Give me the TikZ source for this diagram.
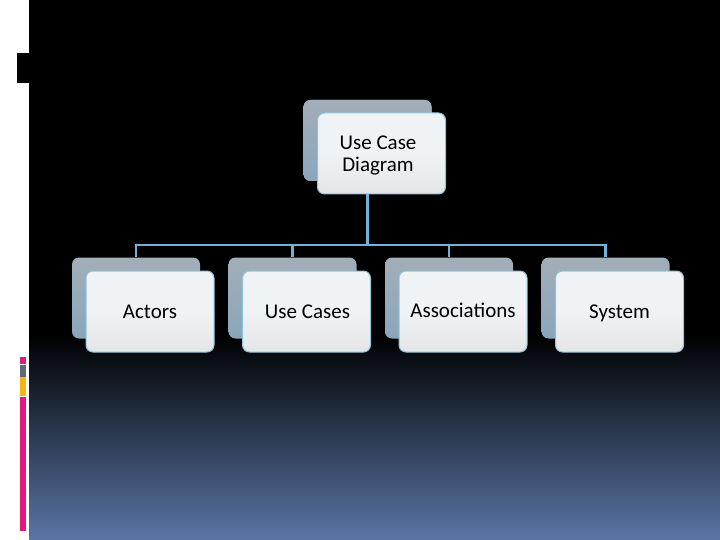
\documentclass[tikz,border=0pt]{standalone}
\usepackage{fontspec}
\setmainfont{Carlito}
\definecolor{bgblue}{HTML}{5A76A6}
\definecolor{backtop}{HTML}{A2AEB8}
\definecolor{backbot}{HTML}{8AA6BC}
\definecolor{frontfill}{HTML}{F0F3F6}
\definecolor{frontbot}{HTML}{E4E5E6}
\definecolor{edgeblue}{HTML}{8EC3DC}
\definecolor{linkblue}{HTML}{6FB2DA}
\definecolor{barpink}{HTML}{E0197A}
\definecolor{bargray}{HTML}{5E6A78}
\definecolor{baryellow}{HTML}{F6B517}
\tikzset{
  backbox/.style={rounded corners=7pt, minimum width=128pt, minimum height=81pt, inner sep=0pt,
    top color=backtop, bottom color=backbot, draw=none},
  frontbox/.style={rounded corners=7pt, minimum width=128pt, minimum height=81pt, inner sep=0pt,
    shading=axis, top color=frontfill, bottom color=frontbot, middle color=frontfill, draw=edgeblue, line width=1pt},
  lbl/.style={inner sep=0pt, align=center, font=\fontsize{21}{22}\selectfont, text=black},
  link/.style={draw=linkblue, line width=2.2pt}
}
\begin{document}
\begin{tikzpicture}[x=1pt,y=-1pt]
\useasboundingbox (0,0) rectangle (720,540);
% background
\fill[white] (0,0) rectangle (720,540);
\fill[black] (29,0) rectangle (720,540);
\shade[top color=black, bottom color=bgblue] (29,335) rectangle (720,540);
\fill[black] (17,53) rectangle (29,83);
% left bars
\fill[barpink] (20,357) rectangle (26,364);
\fill[bargray] (20,365) rectangle (26,377);
\fill[baryellow] (20,377) rectangle (26,396);
\fill[barpink] (20,397) rectangle (26,531);
% back boxes
\node[backbox] (topback) at (367.5,140.5) {};
\coordinate (bus) at (0,245);
\node[backbox] (b1) at (136,298) {};
\node[backbox] (b2) at (292.5,298) {};
\node[backbox] (b3) at (449,298) {};
\node[backbox] (b4) at (605.5,298) {};
% connectors
\draw[link] (topback.center) -- (topback.center |- bus) -| (b1.north);
\draw[link] (topback.center |- bus) -| (b2.north);
\draw[link] (topback.center |- bus) -| (b3.north);
\draw[link] (topback.center |- bus) -| (b4.north);
\node[backbox] at (367.5,140.5) {};
% front boxes
\node[frontbox] (top) at (381.5,153.5) {};
\node[frontbox] (f1) at (150,311.5) {};
\node[frontbox] (f2) at (306.5,311.5) {};
\node[frontbox] (f3) at (463,311.5) {};
\node[frontbox] (f4) at (619.5,311.5) {};
% labels
\node[lbl] (ttop) at (378,155) {Use Case\\Diagram};
\node[lbl, anchor=base] (t1) at (150,318) {Actors};
\node[lbl, anchor=base] (t2) at (307.5,318) {Use Cases};
\node[lbl, anchor=base] (t3) at (463,317.3) {Associations};
\node[lbl, anchor=base] (t4) at (619.5,318) {System};
\end{tikzpicture}
\end{document}
